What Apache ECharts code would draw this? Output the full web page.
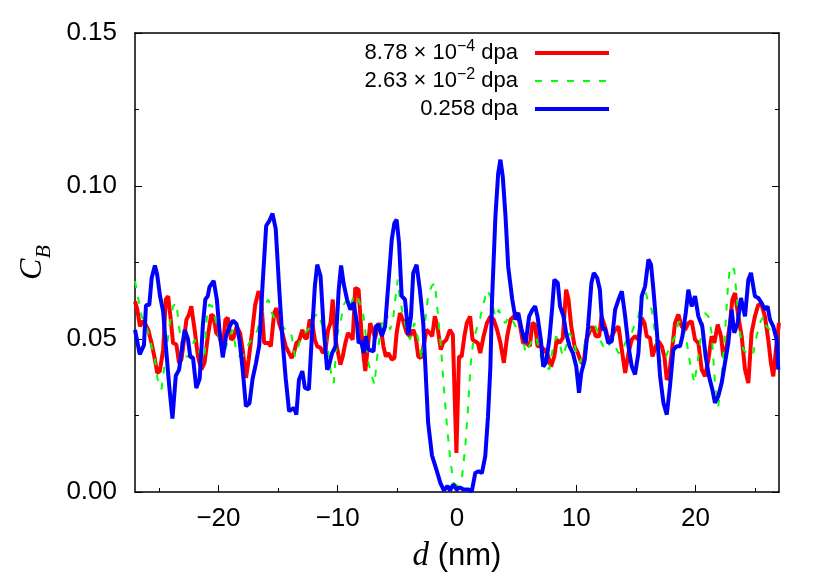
<!DOCTYPE html>
<html>
<head>
<meta charset="utf-8">
<script src="https://cdn.jsdelivr.net/npm/echarts@6/dist/echarts.min.js"></script>
<style>html,body{margin:0;padding:0;background:#fff;}#c{width:830px;height:581px;}</style>
</head>
<body>
<div id="c"></div>
<script>
// x tick positions and labels
const xMajorTicks = [-20, -10, 0, 10, 20];
const xMinorTicks = [-25, -15, -5, 5, 15, 25];
const seriesNames = ['8.78 \u00d7 10^-4 dpa', '2.63 \u00d7 10^-2 dpa', '0.258 dpa'];

// [d (nm), C_B] pairs
const red = [
[-27.0,0.0623],[-26.81,0.0596],[-26.58,0.0541],[-26.36,0.0558],[-26.17,0.0552],[-25.89,0.053],[-25.61,0.0487],[-25.33,0.0433],[-25.14,0.0389],[-24.92,0.0395],
[-24.64,0.0465],[-24.42,0.0629],[-24.22,0.064],[-24.03,0.0574],[-23.81,0.0487],[-23.53,0.0482],[-23.31,0.0422],[-23.11,0.0433],[-22.92,0.0487],[-22.69,0.0563],
[-22.47,0.058],[-22.28,0.0607],[-22.0,0.053],[-21.72,0.0443],[-21.44,0.04],[-21.17,0.0422],[-20.89,0.0509],[-20.61,0.058],[-20.42,0.0574],[-20.19,0.052],
[-19.92,0.0509],[-19.64,0.0465],[-19.42,0.0563],[-19.22,0.0569],[-18.94,0.0498],[-18.75,0.0503],[-18.47,0.0541],[-18.19,0.052],[-17.97,0.0465],[-17.69,0.0373],
[-17.47,0.0433],[-17.19,0.052],[-16.92,0.0612],[-16.64,0.0656],[-16.44,0.064],[-16.17,0.0487],[-15.81,0.0487],[-15.61,0.0476],[-15.33,0.0585],[-15.14,0.0601],
[-14.92,0.0552],[-14.64,0.052],[-14.36,0.0476],[-14.08,0.0454],[-13.86,0.0438],[-13.67,0.0454],[-13.47,0.0487],[-13.25,0.0493],[-12.97,0.053],[-12.75,0.0503],
[-12.56,0.0503],[-12.36,0.0563],[-12.14,0.0552],[-11.92,0.0498],[-11.72,0.0476],[-11.44,0.0471],[-11.25,0.0454],[-11.03,0.0465],[-10.81,0.053],[-10.61,0.0552],
[-10.42,0.0629],[-10.19,0.0498],[-9.97,0.0454],[-9.78,0.0416],[-9.58,0.0443],[-9.36,0.0487],[-9.14,0.052],[-8.94,0.0509],[-8.75,0.0498],[-8.53,0.0667],
[-8.25,0.0661],[-8.03,0.053],[-7.83,0.0443],[-7.69,0.0395],[-7.47,0.0476],[-7.28,0.0552],[-7.08,0.053],[-6.86,0.0503],[-6.58,0.0552],[-6.36,0.053],
[-6.17,0.0476],[-5.97,0.0443],[-5.75,0.0454],[-5.47,0.0433],[-5.25,0.0438],[-5.06,0.052],[-4.78,0.0585],[-4.5,0.0558],[-4.22,0.052],[-3.94,0.0509],
[-3.67,0.053],[-3.47,0.0509],[-3.25,0.0443],[-3.03,0.0438],[-2.75,0.0487],[-2.56,0.053],[-2.28,0.052],[-2.08,0.0509],[-1.86,0.0574],[-1.64,0.0541],
[-1.36,0.0465],[-1.17,0.0487],[-0.89,0.0498],[-0.6,0.053],[-0.35,0.0514],[-0.05,0.0128],[0.17,0.0443],[0.39,0.0443],[0.62,0.0509],[0.82,0.0552],
[1.1,0.0574],[1.3,0.0498],[1.53,0.0492],[1.75,0.0487],[1.95,0.0454],[2.23,0.0509],[2.51,0.0552],[2.8,0.0574],[3.08,0.0563],[3.36,0.053],
[3.64,0.0487],[3.93,0.0422],[4.21,0.0509],[4.49,0.0563],[4.77,0.0574],[5.06,0.0585],[5.25,0.0552],[5.54,0.0487],[5.82,0.0487],[6.1,0.0476],
[6.33,0.0552],[6.55,0.0547],[6.75,0.0476],[7.03,0.0476],[7.32,0.0465],[7.6,0.0449],[7.88,0.041],[8.16,0.0443],[8.36,0.0498],[8.59,0.0487],
[8.87,0.0503],[9.15,0.0661],[9.35,0.0629],[9.58,0.0541],[9.86,0.0476],[10.14,0.0454],[10.42,0.0422],[10.62,0.0422],[10.85,0.0498],[11.13,0.0525],
[11.36,0.0541],[11.64,0.0509],[11.92,0.0509],[12.12,0.0574],[12.4,0.0541],[12.68,0.0498],[12.98,0.0509],[13.26,0.053],[13.54,0.0541],[13.82,0.0465],
[14.1,0.0389],[14.38,0.0454],[14.65,0.0498],[14.93,0.0509],[15.21,0.0498],[15.49,0.0569],[15.72,0.0552],[15.91,0.0509],[16.19,0.0503],[16.39,0.0443],
[16.66,0.0476],[16.89,0.0493],[17.17,0.0476],[17.39,0.0443],[17.59,0.0367],[17.78,0.0378],[18.0,0.0454],[18.28,0.0552],[18.56,0.058],[18.84,0.0541],
[19.12,0.053],[19.4,0.0552],[19.68,0.0558],[19.96,0.0498],[20.24,0.0487],[20.52,0.04],[20.8,0.0378],[21.08,0.0433],[21.35,0.0509],[21.58,0.0487],
[21.86,0.0547],[22.14,0.0509],[22.33,0.0443],[22.61,0.0476],[22.89,0.0552],[23.09,0.0629],[23.31,0.065],[23.59,0.0574],[23.87,0.0509],[24.15,0.04],
[24.43,0.0356],[24.7,0.052],[24.98,0.0574],[25.26,0.0612],[25.54,0.0612],[25.82,0.0574],[26.1,0.0498],[26.32,0.0422],[26.52,0.0378],[26.8,0.0487],[27.0,0.0552]
];

const green = [
[-27.0,0.0689],[-26.72,0.0629],[-26.44,0.0574],[-26.17,0.0552],[-25.89,0.052],[-25.61,0.0476],[-25.33,0.0433],[-25.06,0.0356],[-24.78,0.0335],[-24.5,0.0422],
[-24.22,0.0509],[-24.03,0.0563],[-23.81,0.0607],[-23.53,0.0618],[-23.31,0.0541],[-23.11,0.0487],[-22.83,0.0443],[-22.56,0.0443],[-22.28,0.0465],[-22.0,0.0498],
[-21.72,0.0476],[-21.44,0.0433],[-21.17,0.0443],[-20.97,0.0574],[-20.8,0.0612],[-20.53,0.0607],[-20.25,0.0563],[-19.92,0.0498],[-19.64,0.0443],[-19.36,0.0476],
[-19.08,0.0509],[-18.8,0.053],[-18.53,0.0465],[-18.25,0.0443],[-17.97,0.0443],[-17.69,0.0465],[-17.42,0.0487],[-17.0,0.0509],[-16.72,0.053],[-16.44,0.0574],
[-16.03,0.0618],[-15.81,0.0629],[-15.53,0.0585],[-15.25,0.0563],[-14.97,0.0552],[-14.64,0.0541],[-14.36,0.053],[-14.08,0.053],[-13.86,0.0509],[-13.58,0.0443],
[-13.31,0.0476],[-13.03,0.0509],[-12.75,0.052],[-12.47,0.053],[-12.19,0.0563],[-11.92,0.0574],[-11.64,0.0585],[-11.36,0.0552],[-11.08,0.052],[-10.81,0.0465],
[-10.53,0.0378],[-10.33,0.0356],[-10.06,0.0509],[-9.78,0.0552],[-9.5,0.0612],[-9.22,0.0629],[-8.94,0.0607],[-8.67,0.064],[-8.39,0.0645],[-8.11,0.0612],
[-7.83,0.0574],[-7.64,0.0509],[-7.42,0.0422],[-7.14,0.0378],[-6.92,0.0351],[-6.72,0.0433],[-6.44,0.052],[-6.17,0.0574],[-5.89,0.0585],[-5.61,0.053],
[-5.33,0.0574],[-5.14,0.064],[-4.97,0.0694],[-4.78,0.0629],[-4.5,0.0574],[-4.22,0.053],[-3.94,0.0498],[-3.58,0.0552],[-3.25,0.0498],[-2.97,0.0433],
[-2.69,0.0552],[-2.42,0.064],[-2.14,0.0672],[-1.86,0.0683],[-1.58,0.0574],[-1.31,0.0454],[-1.1,0.034],[-0.85,0.022],[-0.6,0.012],[-0.31,0.003],
[0.0,0.002],[0.39,0.004],[0.68,0.014],[0.9,0.026],[1.13,0.041],[1.38,0.05],[1.95,0.057],[2.51,0.066],[2.8,0.064],[3.22,0.057],
[3.5,0.0596],[3.79,0.0563],[4.07,0.0552],[4.35,0.0574],[4.63,0.0563],[4.92,0.0541],[5.2,0.0552],[5.48,0.0509],[5.76,0.0454],[6.05,0.0476],
[6.33,0.0498],[6.61,0.0509],[6.89,0.0465],[7.18,0.0422],[7.46,0.041],[7.74,0.04],[8.02,0.0465],[8.31,0.0509],[8.59,0.0487],[8.87,0.0443],
[9.15,0.0476],[9.44,0.052],[9.77,0.0498],[10.06,0.0443],[10.34,0.0422],[10.62,0.0465],[10.85,0.0509],[11.13,0.053],[11.47,0.0552],[11.75,0.053],
[11.98,0.0498],[12.26,0.0476],[12.54,0.0465],[12.7,0.0476],[12.98,0.0498],[13.26,0.0476],[13.54,0.0454],[13.82,0.0454],[14.1,0.0487],[14.38,0.0509],
[14.65,0.052],[14.93,0.0552],[15.21,0.0574],[15.49,0.0629],[15.77,0.0661],[16.05,0.0618],[16.33,0.0596],[16.6,0.052],[16.88,0.0443],[17.17,0.0422],
[17.45,0.0433],[17.73,0.0465],[18.0,0.0487],[18.28,0.0509],[18.56,0.0552],[18.84,0.0563],[19.18,0.0509],[19.54,0.0422],[19.9,0.0356],[20.24,0.0443],
[20.52,0.053],[20.8,0.0585],[21.08,0.0574],[21.35,0.052],[21.63,0.0356],[21.91,0.028],[22.19,0.0378],[22.47,0.052],[22.7,0.0661],[22.89,0.0738],
[23.25,0.0727],[23.45,0.064],[23.73,0.052],[24.01,0.0465],[24.29,0.0454],[24.57,0.0465],[24.85,0.0454],[25.12,0.0509],[25.4,0.0552],[25.68,0.0574],
[25.96,0.0541],[26.24,0.053],[26.52,0.052],[26.8,0.0509]
];

const blue = [
[-27.0,0.053],[-26.6,0.045],[-26.25,0.048],[-26.08,0.061],[-25.8,0.0612],[-25.6,0.07],[-25.33,0.074],[-25.14,0.071],[-24.9,0.064],[-24.64,0.059],
[-24.42,0.048],[-24.14,0.035],[-23.86,0.024],[-23.58,0.038],[-23.3,0.04],[-23.03,0.048],[-22.83,0.053],[-22.56,0.05],[-22.36,0.044],[-22.14,0.044],
[-21.86,0.034],[-21.58,0.037],[-21.3,0.055],[-21.1,0.063],[-20.9,0.064],[-20.75,0.067],[-20.4,0.069],[-20.14,0.063],[-19.92,0.053],[-19.64,0.044],
[-19.5,0.044],[-19.36,0.051],[-19.08,0.054],[-18.8,0.056],[-18.5,0.055],[-18.25,0.05],[-17.97,0.04],[-17.7,0.028],[-17.4,0.029],[-17.14,0.037],
[-16.86,0.042],[-16.58,0.048],[-16.3,0.068],[-16.0,0.087],[-15.75,0.0885],[-15.47,0.091],[-15.2,0.086],[-14.9,0.066],[-14.64,0.05],[-14.36,0.037],
[-14.08,0.0264],[-13.94,0.0269],[-13.67,0.0275],[-13.47,0.0253],[-13.25,0.0367],[-12.97,0.0395],[-12.75,0.034],[-12.42,0.0335],[-12.14,0.053],[-11.92,0.0672],
[-11.72,0.0743],[-11.44,0.0705],[-11.17,0.053],[-10.89,0.04],[-10.75,0.041],[-10.47,0.0454],[-10.19,0.0476],[-9.92,0.066],[-9.72,0.074],[-9.5,0.068],
[-9.22,0.0629],[-8.94,0.0596],[-8.67,0.0618],[-8.39,0.0552],[-8.25,0.0487],[-8.03,0.0493],[-7.83,0.0454],[-7.64,0.0509],[-7.42,0.0465],[-7.0,0.046],
[-6.81,0.0541],[-6.58,0.0547],[-6.3,0.0509],[-6.03,0.0541],[-5.75,0.0683],[-5.47,0.0825],[-5.25,0.0879],[-5.06,0.089],[-4.86,0.0814],[-4.64,0.064],
[-4.36,0.0629],[-4.08,0.0514],[-3.86,0.0574],[-3.67,0.0716],[-3.39,0.0743],[-3.11,0.066],[-2.83,0.0552],[-2.56,0.0335],[-2.42,0.0226],[-2.1,0.012],
[-1.7,0.007],[-1.4,0.003],[-1.1,0.0005],[-0.8,0.002],[-0.59,0.0005],[-0.31,0.0025],[-0.03,0.0008],[0.25,0.0015],[0.54,0.0008],[0.96,0.0008],
[1.24,0.0002],[1.53,0.0062],[1.81,0.0068],[2.09,0.0062],[2.37,0.0117],[2.6,0.0247],[2.8,0.041],[2.94,0.063],[3.22,0.09],[3.45,0.104],
[3.64,0.1086],[3.84,0.103],[4.07,0.09],[4.29,0.0737],[4.63,0.063],[4.92,0.0563],[5.14,0.0585],[5.42,0.053],[5.76,0.0487],[6.05,0.0574],
[6.33,0.0596],[6.55,0.0607],[6.75,0.0574],[7.03,0.0498],[7.23,0.041],[7.46,0.0422],[7.74,0.0498],[7.97,0.0596],[8.16,0.0694],[8.45,0.0683],
[8.64,0.0607],[8.93,0.0574],[9.15,0.052],[9.44,0.0476],[9.72,0.0454],[10.0,0.041],[10.23,0.0324],[10.42,0.0389],[10.71,0.0432],[10.99,0.0541],
[11.27,0.0683],[11.47,0.0716],[11.75,0.07],[11.98,0.0661],[12.2,0.053],[12.4,0.0536],[12.68,0.0487],[12.98,0.0493],[13.26,0.0596],[13.54,0.0629],
[13.82,0.0656],[14.1,0.0574],[14.38,0.0476],[14.65,0.0411],[14.93,0.0384],[15.21,0.0454],[15.49,0.064],[15.77,0.0672],[16.05,0.076],[16.27,0.0743],
[16.47,0.0661],[16.75,0.053],[17.03,0.0378],[17.31,0.0291],[17.59,0.0253],[17.86,0.0346],[18.14,0.0465],[18.42,0.0476],[18.7,0.0476],[18.9,0.0509],
[19.18,0.0585],[19.4,0.0661],[19.68,0.0607],[19.96,0.064],[20.24,0.0574],[20.57,0.0541],[20.85,0.0443],[21.13,0.0378],[21.41,0.0335],[21.63,0.0291],
[21.91,0.0313],[22.19,0.0356],[22.47,0.0422],[22.75,0.0487],[23.03,0.0596],[23.25,0.052],[23.53,0.0552],[23.81,0.0634],[24.15,0.0574],[24.43,0.0694],
[24.65,0.0716],[24.98,0.064],[25.26,0.0634],[25.54,0.0618],[25.82,0.0596],[26.04,0.0607],[26.24,0.0563],[26.52,0.0541],[26.8,0.0498],[26.94,0.04]
];

const SANS = 'Liberation Sans, Arial, Helvetica, sans-serif';
const SERIF = 'Liberation Serif, Times New Roman, serif';
const minus = v => (v < 0 ? '\u2212' + (-v) : String(v));

const chart = echarts.init(document.getElementById('c'), null, {renderer: 'canvas'});
const axisLineStyle = {color: '#000', width: 1.5};
const hiddenSymbol = {color: 'rgba(0,0,0,0)', opacity: 0, borderWidth: 0};

const legendLabels = {};
legendLabels[seriesNames[0]] = '8.78 \u00d7 10{sup|\u22124} dpa';
legendLabels[seriesNames[1]] = '2.63 \u00d7 10{sup|\u22122} dpa';
legendLabels[seriesNames[2]] = '0.258 dpa';

chart.setOption({
  animation: false,
  backgroundColor: '#fff',
  grid: {left: 135, right: 51, top: 33, bottom: 89},
  legend: {
    orient: 'vertical', right: 219, top: 39, padding: 0, itemGap: 0,
    align: 'right', itemWidth: 74, itemHeight: 14,
    selectedMode: false,
    formatter: name => legendLabels[name],
    textStyle: {
      fontFamily: SANS, fontSize: 22, color: '#000', lineHeight: 28, padding: [0, 12, 0, 0],
      rich: {sup: {fontFamily: SANS, fontSize: 16, lineHeight: 16, color: '#000', verticalAlign: 'top'}}
    },
    data: [
      {name: seriesNames[0], itemStyle: hiddenSymbol, lineStyle: {width: 4, color: '#ff0000'}},
      {name: seriesNames[1], itemStyle: hiddenSymbol, lineStyle: {width: 2, color: '#00ff00', type: [7, 9]}},
      {name: seriesNames[2], itemStyle: hiddenSymbol, lineStyle: {width: 4, color: '#0000ff'}}
    ]
  },
  xAxis: [
    {
      type: 'value', min: -27, max: 27, position: 'bottom',
      axisLine: {show: true, onZero: false, lineStyle: axisLineStyle},
      axisTick: {show: true, inside: true, length: 7, customValues: xMajorTicks, lineStyle: {color: '#000', width: 1}},
      axisLabel: {customValues: xMajorTicks, formatter: minus, fontFamily: SANS, fontSize: 26, color: '#000', margin: 14},
      splitLine: {show: false},
      name: '{i|d} (nm)', nameLocation: 'middle', nameGap: 48,
      nameTextStyle: {fontFamily: SANS, fontSize: 31, color: '#000',
        rich: {i: {fontFamily: SERIF, fontStyle: 'italic', fontSize: 33, color: '#000'}}}
    },
    {
      type: 'value', min: -27, max: 27, position: 'bottom',
      axisLine: {show: false},
      axisTick: {show: true, inside: true, length: 4, customValues: xMinorTicks, lineStyle: {color: '#000', width: 1}},
      axisLabel: {show: false}, splitLine: {show: false}
    },
    {
      type: 'value', min: -27, max: 27, position: 'top',
      axisLine: {show: true, onZero: false, lineStyle: axisLineStyle},
      axisTick: {show: false}, axisLabel: {show: false}, splitLine: {show: false}
    }
  ],
  yAxis: [
    {
      type: 'value', min: 0, max: 0.15, interval: 0.05, position: 'left',
      axisLine: {show: true, onZero: false, lineStyle: axisLineStyle},
      axisTick: {show: true, inside: true, length: 7, lineStyle: {color: '#000', width: 1}},
      minorTick: {show: true, splitNumber: 2, length: 4, lineStyle: {color: '#000', width: 1}},
      axisLabel: {formatter: v => v.toFixed(2), fontFamily: SANS, fontSize: 26, color: '#000', margin: 18},
      splitLine: {show: false}, minorSplitLine: {show: false},
      name: '{c|C}{b|B}', nameLocation: 'middle', nameRotate: 90, nameGap: 86,
      nameTextStyle: {fontFamily: SERIF, fontSize: 32, color: '#000',
        rich: {
          c: {fontFamily: SERIF, fontStyle: 'italic', fontSize: 32, lineHeight: 32, color: '#000', verticalAlign: 'top'},
          b: {fontFamily: SERIF, fontStyle: 'italic', fontSize: 22, lineHeight: 22, padding: [16, 0, 0, 0], color: '#000', verticalAlign: 'top'}
        }}
    },
    {
      type: 'value', min: 0, max: 0.15, interval: 0.05, position: 'right',
      axisLine: {show: true, onZero: false, lineStyle: axisLineStyle},
      axisTick: {show: true, inside: true, length: 7, lineStyle: {color: '#000', width: 1}},
      minorTick: {show: true, splitNumber: 2, length: 4, lineStyle: {color: '#000', width: 1}},
      axisLabel: {show: false}, splitLine: {show: false}, minorSplitLine: {show: false}
    }
  ],
  series: [
    {name: seriesNames[0], type: 'line', data: red, symbol: 'none', z: 2,
     lineStyle: {color: '#ff0000', width: 4}, itemStyle: {color: '#ff0000'}},
    {name: seriesNames[1], type: 'line', data: green, symbol: 'none', z: 3,
     lineStyle: {color: '#00ff00', width: 2, type: [7, 9]}, itemStyle: {color: '#00ff00'}},
    {name: seriesNames[2], type: 'line', data: blue, symbol: 'none', z: 4,
     lineStyle: {color: '#0000ff', width: 4}, itemStyle: {color: '#0000ff'}}
  ]
});
</script>
</body>
</html>
